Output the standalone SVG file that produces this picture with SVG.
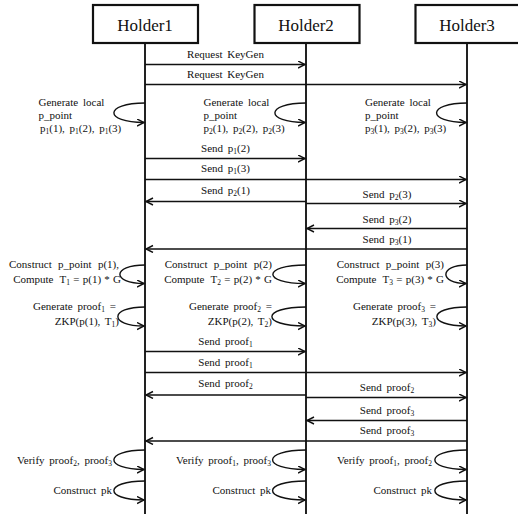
<svg xmlns="http://www.w3.org/2000/svg" width="518" height="516" viewBox="0 0 518 516">
<style>
text{font-family:"Liberation Serif","DejaVu Serif","Times New Roman",serif;font-size:11px;fill:#111;word-spacing:2px}
.h{font-size:17px;word-spacing:0}
.m{text-anchor:middle}
.e{text-anchor:end}
.w{word-spacing:3.5px}
.n{word-spacing:0.5px}
.s{font-size:7.5px}
.box{fill:#fff;stroke:#111;stroke-width:2.2}
.life{stroke:#222;stroke-width:2;fill:none}
.msg{stroke:#111;stroke-width:1.4;fill:none}
.arr{marker-end:url(#ah)}
.loop{stroke:#111;stroke-width:1.4;fill:none;marker-end:url(#ah)}
</style>
<defs>
<marker id="ah" markerUnits="userSpaceOnUse" markerWidth="10" markerHeight="10" refX="7.5" refY="4" orient="auto">
<path d="M0.5,0.5 L7.5,4 L0.5,7.5" fill="none" stroke="#111" stroke-width="1.4"/>
</marker>
</defs>

<g id="lifelines">
<line class="life" x1="145" y1="44" x2="145" y2="514"/>
<line class="life" x1="306" y1="44" x2="306" y2="514"/>
<line class="life" x1="467" y1="44" x2="467" y2="514"/>
</g>

<g id="holder1">
<rect class="box" x="93" y="5" width="105" height="38"/>
<text class="h m" x="145" y="31">Holder1</text>
</g>
<g id="holder2">
<rect class="box" x="254.5" y="5" width="105" height="38"/>
<text class="h m" x="306" y="31">Holder2</text>
</g>
<g id="holder3">
<rect class="box" x="415.5" y="5" width="106" height="38"/>
<text class="h m" x="467" y="31">Holder3</text>
</g>

<g id="connectors">
<line class="msg arr" x1="145" y1="64.5" x2="305" y2="64.5"/>
<line class="msg arr" x1="145" y1="84.5" x2="466" y2="84.5"/>
<line class="msg arr" x1="145" y1="158.5" x2="305" y2="158.5"/>
<line class="msg arr" x1="145" y1="179.5" x2="466" y2="179.5"/>
<line class="msg arr" x1="306" y1="201.5" x2="146" y2="201.5"/>
<line class="msg arr" x1="306" y1="203.5" x2="466" y2="203.5"/>
<line class="msg arr" x1="467" y1="228.5" x2="307" y2="228.5"/>
<line class="msg arr" x1="467" y1="249" x2="146" y2="249"/>
<line class="msg arr" x1="145" y1="351.5" x2="305" y2="351.5"/>
<line class="msg arr" x1="145" y1="372.5" x2="466" y2="372.5"/>
<line class="msg arr" x1="306" y1="395" x2="146" y2="395"/>
<line class="msg arr" x1="306" y1="397.5" x2="466" y2="397.5"/>
<line class="msg arr" x1="467" y1="420.5" x2="307" y2="420.5"/>
<line class="msg arr" x1="467" y1="441" x2="146" y2="441"/>

<path class="loop" d="M145,103 C103.7,103 103.7,122.5 144,122.5"/>
<path class="loop" d="M306,103 C264.7,103 264.7,122.5 305,122.5"/>
<path class="loop" d="M467,103 C426.6,103 426.6,122.5 466,122.5"/>

<path class="loop" d="M145,265 C111.7,265 111.7,283.5 144,283.5"/>
<path class="loop" d="M306,265 C262,265 262,283.5 305,283.5"/>
<path class="loop" d="M467,265 C439,265 439,283.5 466,283.5"/>

<path class="loop" d="M145,307 C109,307 109,326 144,326"/>
<path class="loop" d="M306,307 C260.7,307 260.7,326 305,326"/>
<path class="loop" d="M467,307 C427,307 427,326 466,326"/>

<path class="loop" d="M145,450 C103.7,450 103.7,469.5 144,469.5"/>
<path class="loop" d="M306,450 C261.6,450 261.6,469.5 305,469.5"/>
<path class="loop" d="M467,450 C424.3,450 424.3,469.5 466,469.5"/>

<path class="loop" d="M145,481 C103.7,481 103.7,500 144,500"/>
<path class="loop" d="M306,481 C261.6,481 261.6,500 305,500"/>
<path class="loop" d="M467,481 C424.3,481 424.3,500 466,500"/>
</g>

<g id="labels">
<text class="m" x="225.5" y="58">Request KeyGen</text>
<text class="m" x="225.5" y="78">Request KeyGen</text>
<text class="m" x="225.5" y="152">Send p<tspan class="s" dy="2">1</tspan><tspan dy="-2">(2)</tspan></text>
<text class="m" x="225.5" y="172">Send p<tspan class="s" dy="2">1</tspan><tspan dy="-2">(3)</tspan></text>
<text class="m" x="225.5" y="194">Send p<tspan class="s" dy="2">2</tspan><tspan dy="-2">(1)</tspan></text>
<text class="m" x="387" y="198">Send p<tspan class="s" dy="2">2</tspan><tspan dy="-2">(3)</tspan></text>
<text class="m" x="387" y="222.5">Send p<tspan class="s" dy="2">3</tspan><tspan dy="-2">(2)</tspan></text>
<text class="m" x="387" y="242.5">Send p<tspan class="s" dy="2">3</tspan><tspan dy="-2">(1)</tspan></text>
<text class="m" x="225.5" y="345">Send proof<tspan class="s" dy="2">1</tspan></text>
<text class="m" x="225.5" y="365.5">Send proof<tspan class="s" dy="2">1</tspan></text>
<text class="m" x="225.5" y="386.5">Send proof<tspan class="s" dy="2">2</tspan></text>
<text class="m" x="387" y="390.5">Send proof<tspan class="s" dy="2">2</tspan></text>
<text class="m" x="387" y="413.5">Send proof<tspan class="s" dy="2">3</tspan></text>
<text class="m" x="387" y="434">Send proof<tspan class="s" dy="2">3</tspan></text>
</g>

<g id="h1-notes">
<text x="38.5" y="105.5">Generate local</text>
<text x="38.5" y="118.5">p_point</text>
<text x="40" y="132">p<tspan class="s" dy="2">1</tspan><tspan dy="-2">(1), p</tspan><tspan class="s" dy="2">1</tspan><tspan dy="-2">(2), p</tspan><tspan class="s" dy="2">1</tspan><tspan dy="-2">(3)</tspan></text>
<text class="e w" x="119" y="268">Construct p_point p(1),</text>
<text class="e w" x="121" y="283">Compute T<tspan class="s" dy="2">1</tspan><tspan class="n" dy="-2"> = p(1) * G</tspan></text>
<text class="e" x="116" y="310">Generate proof<tspan class="s" dy="2">1</tspan><tspan dy="-2"> =</tspan></text>
<text class="e" x="119" y="325">ZKP(p(1), T<tspan class="s" dy="2">1</tspan><tspan dy="-2">)</tspan></text>
<text class="e" x="112" y="464">Verify proof<tspan class="s" dy="2">2</tspan><tspan dy="-2">, proof</tspan><tspan class="s" dy="2">3</tspan></text>
<text class="e" x="112" y="494">Construct pk</text>
</g>

<g id="h2-notes">
<text x="203.5" y="105.5">Generate local</text>
<text x="203.5" y="118.5">p_point</text>
<text x="203.5" y="132">p<tspan class="s" dy="2">2</tspan><tspan dy="-2">(1), p</tspan><tspan class="s" dy="2">2</tspan><tspan dy="-2">(2), p</tspan><tspan class="s" dy="2">2</tspan><tspan dy="-2">(3)</tspan></text>
<text class="e w" x="272" y="268">Construct p_point p(2)</text>
<text class="e w" x="272" y="283">Compute T<tspan class="s" dy="2">2</tspan><tspan class="n" dy="-2"> = p(2) * G</tspan></text>
<text class="e" x="272" y="310">Generate proof<tspan class="s" dy="2">2</tspan><tspan dy="-2"> =</tspan></text>
<text class="e" x="272" y="325">ZKP(p(2), T<tspan class="s" dy="2">2</tspan><tspan dy="-2">)</tspan></text>
<text class="e" x="271" y="464">Verify proof<tspan class="s" dy="2">1</tspan><tspan dy="-2">, proof</tspan><tspan class="s" dy="2">3</tspan></text>
<text class="e" x="271" y="494">Construct pk</text>
</g>

<g id="h3-notes">
<text x="365" y="105.5">Generate local</text>
<text x="365" y="118.5">p_point</text>
<text x="365" y="132">p<tspan class="s" dy="2">3</tspan><tspan dy="-2">(1), p</tspan><tspan class="s" dy="2">3</tspan><tspan dy="-2">(2), p</tspan><tspan class="s" dy="2">3</tspan><tspan dy="-2">(3)</tspan></text>
<text class="e w" x="444" y="268">Construct p_point p(3)</text>
<text class="e w" x="444" y="283">Compute T<tspan class="s" dy="2">3</tspan><tspan class="n" dy="-2"> = p(3) * G</tspan></text>
<text class="e" x="436" y="310">Generate proof<tspan class="s" dy="2">3</tspan><tspan dy="-2"> =</tspan></text>
<text class="e" x="436" y="325">ZKP(p(3), T<tspan class="s" dy="2">3</tspan><tspan dy="-2">)</tspan></text>
<text class="e" x="432" y="464">Verify proof<tspan class="s" dy="2">1</tspan><tspan dy="-2">, proof</tspan><tspan class="s" dy="2">2</tspan></text>
<text class="e" x="432" y="494">Construct pk</text>
</g>
</svg>
